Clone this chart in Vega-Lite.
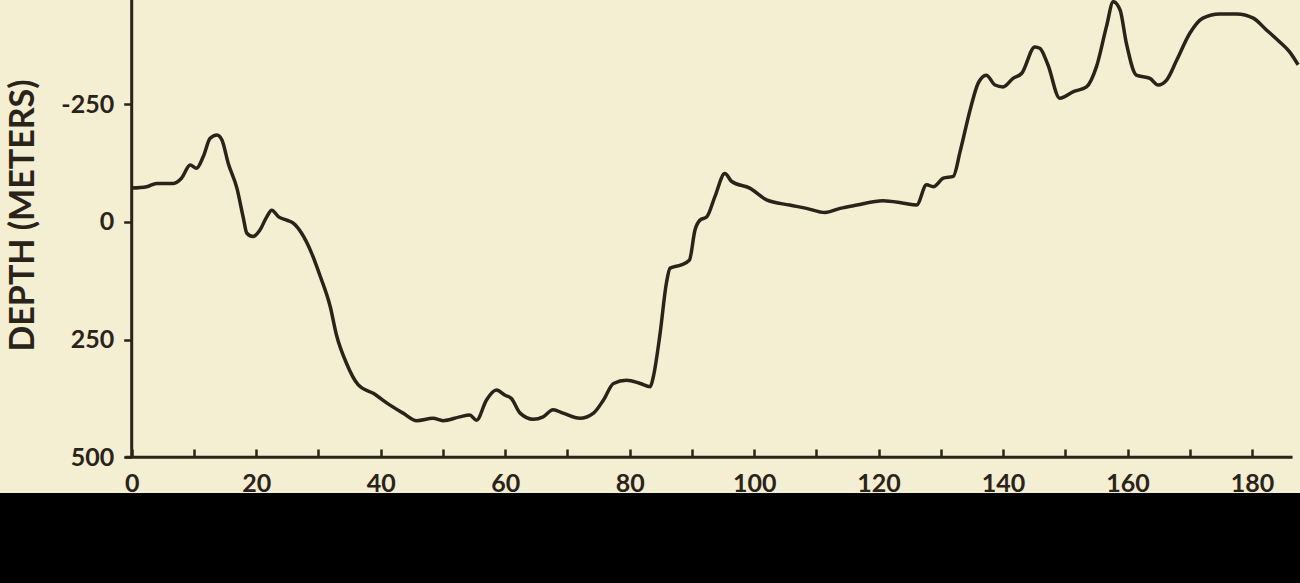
{
  "$schema": "https://vega.github.io/schema/vega-lite/v6.json",
  "width": 1300,
  "height": 493,
  "autosize": {"type": "none"},
  "padding": {"left": 0, "top": 0, "right": 0, "bottom": 90},
  "background": "#000000",
  "config": {"view": {"fill": "#f4eed2", "stroke": null}, "font": "Lato"},
  "datasets": {
    "profile": [
      {"distance": 0, "depth": -72}, {"distance": 2.4, "depth": -75}, {"distance": 4.0, "depth": -82},
      {"distance": 6.7, "depth": -82}, {"distance": 8.0, "depth": -93}, {"distance": 9.4, "depth": -121},
      {"distance": 10.4, "depth": -114}, {"distance": 11.5, "depth": -139}, {"distance": 12.6, "depth": -178},
      {"distance": 13.7, "depth": -185}, {"distance": 14.5, "depth": -174}, {"distance": 15.5, "depth": -125},
      {"distance": 16.9, "depth": -72}, {"distance": 17.9, "depth": -11}, {"distance": 18.5, "depth": 24},
      {"distance": 19.5, "depth": 31}, {"distance": 20.6, "depth": 17}, {"distance": 21.7, "depth": -11},
      {"distance": 22.5, "depth": -25}, {"distance": 23.6, "depth": -11}, {"distance": 24.9, "depth": -4},
      {"distance": 26.0, "depth": 3}, {"distance": 27.3, "depth": 24}, {"distance": 28.9, "depth": 66},
      {"distance": 30.2, "depth": 112}, {"distance": 31.9, "depth": 180}, {"distance": 32.9, "depth": 240},
      {"distance": 34.5, "depth": 300}, {"distance": 36.4, "depth": 346}, {"distance": 38.8, "depth": 364},
      {"distance": 41.5, "depth": 389}, {"distance": 43.6, "depth": 406}, {"distance": 45.8, "depth": 422},
      {"distance": 48.4, "depth": 417}, {"distance": 50.0, "depth": 422}, {"distance": 52.7, "depth": 414},
      {"distance": 54.3, "depth": 410}, {"distance": 55.4, "depth": 421}, {"distance": 57.0, "depth": 378},
      {"distance": 58.6, "depth": 357}, {"distance": 60.0, "depth": 368}, {"distance": 61.0, "depth": 375},
      {"distance": 62.4, "depth": 406}, {"distance": 64.5, "depth": 419}, {"distance": 66.1, "depth": 414},
      {"distance": 67.7, "depth": 399}, {"distance": 69.3, "depth": 406}, {"distance": 72.0, "depth": 417},
      {"distance": 74.2, "depth": 406}, {"distance": 75.8, "depth": 378}, {"distance": 77.4, "depth": 343},
      {"distance": 79.5, "depth": 336}, {"distance": 81.7, "depth": 343}, {"distance": 83.3, "depth": 350},
      {"distance": 83.8, "depth": 329}, {"distance": 84.9, "depth": 236}, {"distance": 85.9, "depth": 130},
      {"distance": 86.5, "depth": 98}, {"distance": 88.3, "depth": 91}, {"distance": 89.6, "depth": 81},
      {"distance": 90.5, "depth": 17}, {"distance": 91.3, "depth": -4}, {"distance": 92.4, "depth": -11},
      {"distance": 93.7, "depth": -54}, {"distance": 95.3, "depth": -103}, {"distance": 96.4, "depth": -86},
      {"distance": 99.3, "depth": -72}, {"distance": 102.0, "depth": -47}, {"distance": 105.7, "depth": -36},
      {"distance": 108.4, "depth": -29}, {"distance": 111.4, "depth": -20}, {"distance": 113.8, "depth": -29},
      {"distance": 116.5, "depth": -36}, {"distance": 120.7, "depth": -45}, {"distance": 124.0, "depth": -40},
      {"distance": 126.1, "depth": -36}, {"distance": 127.7, "depth": -79}, {"distance": 128.8, "depth": -75},
      {"distance": 130.4, "depth": -93}, {"distance": 132.0, "depth": -97}, {"distance": 133.1, "depth": -150},
      {"distance": 134.7, "depth": -238}, {"distance": 136.0, "depth": -295}, {"distance": 137.3, "depth": -312},
      {"distance": 138.7, "depth": -291}, {"distance": 140.0, "depth": -287}, {"distance": 141.6, "depth": -305},
      {"distance": 143.0, "depth": -316}, {"distance": 145.1, "depth": -372}, {"distance": 145.9, "depth": -369},
      {"distance": 147.2, "depth": -334}, {"distance": 149.1, "depth": -263}, {"distance": 151.3, "depth": -277},
      {"distance": 153.4, "depth": -287}, {"distance": 155.0, "depth": -330}, {"distance": 156.6, "depth": -415},
      {"distance": 157.7, "depth": -468}, {"distance": 158.8, "depth": -450}, {"distance": 159.8, "depth": -380},
      {"distance": 161.4, "depth": -312}, {"distance": 163.6, "depth": -305}, {"distance": 164.9, "depth": -291},
      {"distance": 166.3, "depth": -302}, {"distance": 167.9, "depth": -344}, {"distance": 170.0, "depth": -401},
      {"distance": 172.1, "depth": -433}, {"distance": 174.8, "depth": -442}, {"distance": 177.5, "depth": -442},
      {"distance": 180.2, "depth": -433}, {"distance": 182.3, "depth": -408}, {"distance": 184.4, "depth": -383},
      {"distance": 186.0, "depth": -362}, {"distance": 187.4, "depth": -334}
    ]
  },
  "layer": [
    {
      "data": {"values": [{}]},
      "mark": {"type": "rule", "color": "#2a2319", "strokeWidth": 3},
      "encoding": {
        "x": {"datum": 0, "type": "quantitative", "scale": {"domain": [-21.16, 187.7], "nice": false, "zero": false}},
        "y": {"datum": 500, "type": "quantitative", "scale": {"domain": [-471.6, 575.7], "reverse": true, "nice": false, "zero": false}},
        "y2": {"datum": -471.6}
      }
    },
    {
      "data": {"values": [{}]},
      "mark": {"type": "rule", "color": "#2a2319", "strokeWidth": 3},
      "encoding": {
        "x": {"datum": -1, "type": "quantitative"},
        "x2": {"datum": 186.5},
        "y": {"datum": 500, "type": "quantitative"}
      }
    },
    {
      "data": {"name": "profile"},
      "mark": {"type": "line", "color": "#2a2319", "strokeWidth": 3.5, "interpolate": "monotone"},
      "encoding": {
        "x": {
          "field": "distance", "type": "quantitative",
          "axis": {
            "orient": "bottom", "offset": -36, "values": [0,10,20,30,40,50,60,70,80,90,100,110,120,130,140,150,160,170,180],
            "labelExpr": "datum.value % 20 == 0 ? toString(datum.value) : ''",
            "domain": false, "grid": false, "title": null,
            "tickSize": -8, "tickWidth": 2.5, "tickColor": "#2a2319",
            "labelFontSize": 25, "labelFontWeight": "bold", "labelColor": "#2a2319", "labelPadding": 22,
            "labelBaseline": "top", "labelFlush": false, "labelOverlap": false
          }
        },
        "y": {
          "field": "depth", "type": "quantitative",
          "axis": {
            "orient": "left", "offset": -131.7, "values": [-250, 0, 250, 500],
            "labelExpr": "toString(datum.value)",
            "domain": false, "grid": false,
            "tickSize": 8, "tickWidth": 2.5, "tickColor": "#2a2319",
            "labelFontSize": 25, "labelFontWeight": "bold", "labelColor": "#2a2319", "labelPadding": 10,
            "labelBaseline": "middle", "labelFlush": false, "labelOverlap": false,
            "title": "DEPTH (METERS)", "titleFontSize": 34, "titleFontWeight": "bold", "titleColor": "#2a2319",
            "titleAngle": 270, "titleAlign": "center", "titleBaseline": "alphabetic", "titleX": -98, "titleY": 215
          }
        }
      }
    }
  ]
}
